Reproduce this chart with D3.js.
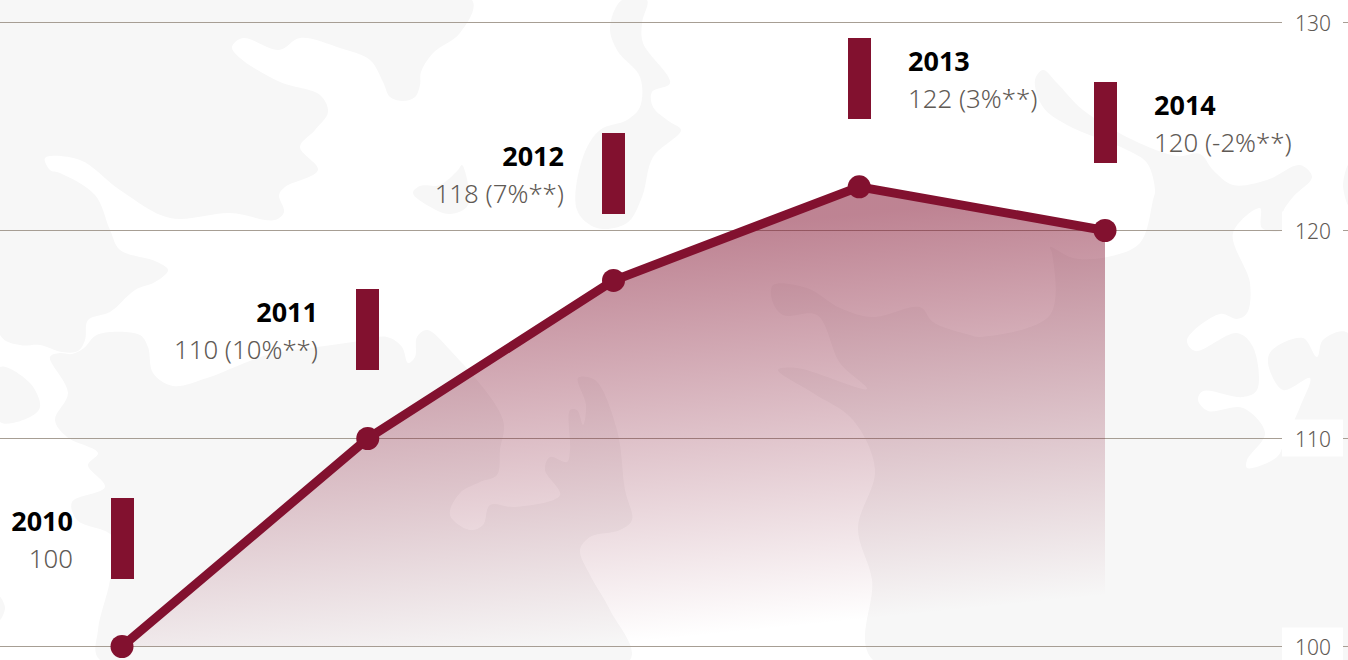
<!DOCTYPE html>
<html><head><meta charset="utf-8">
<script src="https://cdnjs.cloudflare.com/ajax/libs/d3/7.8.5/d3.min.js"></script>
<style>html,body{margin:0;padding:0;background:#fff;overflow:hidden}svg{display:block}
text{font-family:"Noto Sans",sans-serif}</style></head><body>
<svg id="c" width="1348" height="660"></svg>
<script>
const years=[2010,2011,2012,2013,2014];
const values=[100,110,117.6,122.1,120];
const valueLabels=["100","110 (10%**)","118 (7%**)","122 (3%**)","120 (-2%**)"];
const labelSides=["left","left","left","right","right"];
const labelLift=[148.5,149.5,147,148.8,148.5];
const tickValues=[100,110,120,130];

// decorative world-map backdrop outlines
const mapA=[[0,0],[472,0],[460,33],[433,53],[421,72],[420,85],[415,97],[403,101],[390,97],[383,82],[370,60],[340,48],[300,38],[279,50],[243,38],[232,47],[240,58],[280,82],[320,95],[328,112],[315,130],[300,147],[318,170],[285,187],[279,195],[284,212],[275,220],[230,213],[170,218],[120,190],[80,160],[45,158],[50,170],[60,173],[95,195],[110,230],[120,250],[155,261],[168,270],[155,282],[135,290],[110,312],[88,320],[85,340],[78,351],[62,352],[40,345],[20,345],[0,335]];
const mapB=[[50,357],[60,353],[72,354],[84,348],[95,336],[110,332],[140,335],[148,347],[153,373],[173,386],[207,378],[267,355],[317,347],[353,342],[387,337],[402,347],[408,363],[415,357],[417,337],[427,330],[450,350],[503,420],[500,450],[497,475],[480,482],[460,493],[450,515],[470,530],[483,525],[490,505],[515,507],[560,495],[545,470],[550,457],[567,462],[570,450],[570,410],[577,410],[583,425],[586,405],[578,378],[595,380],[617,430],[625,490],[632,520],[620,530],[590,537],[580,550],[590,575],[610,610],[630,660],[100,660],[98,630],[110,580],[113,537],[77,520],[72,502],[105,487],[88,465],[98,453],[67,437],[55,420],[68,393]];
const mapC=[[873,660],[872,580],[858,528],[875,470],[853,420],[813,393],[778,370],[797,368],[867,389],[840,363],[817,315],[783,315],[772,300],[773,285],[807,288],[840,308],[873,317],[913,307],[922,308],[933,322],[970,335],[980,337],[1050,315],[1052,253],[1050,247],[1073,258],[1107,257],[1140,243],[1153,200],[1155,190],[1147,163],[1127,150],[1067,125],[1043,107],[1035,80],[1043,70],[1057,83],[1083,110],[1133,140],[1177,156],[1200,154],[1213,170],[1233,185],[1267,180],[1300,165],[1312,177],[1293,197],[1283,212],[1283,230],[1262,228],[1260,208],[1233,233],[1250,283],[1247,313],[1237,319],[1220,314],[1187,340],[1195,351],[1237,333],[1253,347],[1257,390],[1243,397],[1203,391],[1198,400],[1208,411],[1243,408],[1265,433],[1247,460],[1247,468],[1277,457],[1285,440],[1300,407],[1310,378],[1283,390],[1268,363],[1272,350],[1303,338],[1317,357],[1323,340],[1348,333],[1348,660]];
const mapD=[[622,0],[610,27],[617,50],[640,77],[640,107],[627,120],[600,130],[583,157],[577,210],[597,228],[627,223],[642,197],[653,157],[681,130],[670,122],[653,107],[652,92],[670,83],[643,43],[642,23],[647,0]];
const mapE=[[413,193],[420,186],[440,185],[458,170],[462,165],[468,205],[450,214],[427,205]];
const mapF=[[0,367],[30,383],[40,407],[30,417],[0,422]];
const mapG=[[0,597],[5,608],[0,620]];
const mapH=[[1348,165],[1343,185],[1348,205]];
const mapShapes=[mapA,mapB,mapC,mapD,mapE,mapF,mapG,mapH];

const maroon="#82112f";
const svg=d3.select("#c");
const x=d3.scaleLinear().domain([2010,2014]).range([122,1105]);
const y=d3.scaleLinear().domain([100,130]).range([646.5,22.5]);

// backdrop
const blob=d3.line().curve(d3.curveCatmullRomClosed.alpha(0.5));
svg.append("g").selectAll("path").data(mapShapes).join("path")
  .attr("d",blob).attr("fill","#f7f7f7");

// gridlines + tick labels with white plates
const axis=d3.axisRight(y).tickValues(tickValues).tickSize(0).tickPadding(0);
const gridG=svg.append("g");
gridG.selectAll("line").data(tickValues).join("line")
  .attr("x1",0).attr("x2",1348).attr("y1",d=>y(d)).attr("y2",d=>y(d))
  .attr("stroke","#a79e94").attr("stroke-width",1);
gridG.selectAll("rect").data(tickValues).join("rect")
  .attr("x",1282).attr("width",61).attr("y",d=>y(d)-19).attr("height",37).attr("fill","#fff");

// area gradient
const defs=svg.append("defs");
const grad=defs.append("linearGradient").attr("id","fade").attr("gradientUnits","userSpaceOnUse")
  .attr("x1",600).attr("y1",240).attr("x2",640).attr("y2",642);
grad.append("stop").attr("offset",0).attr("stop-color",maroon).attr("stop-opacity",0.52);
grad.append("stop").attr("offset",1).attr("stop-color",maroon).attr("stop-opacity",0);

const pts=years.map((d,i)=>({year:d,value:values[i],label:valueLabels[i],side:labelSides[i],lift:labelLift[i]}));
svg.append("path").datum(pts)
  .attr("d",d3.area().x(d=>x(d.year)).y0(y(100)).y1(d=>y(d.value)))
  .attr("fill","url(#fade)");
svg.append("path").datum(pts)
  .attr("d",d3.line().x(d=>x(d.year)).y(d=>y(d.value)))
  .attr("fill","none").attr("stroke",maroon).attr("stroke-width",9);
svg.append("g").selectAll("circle").data(pts).join("circle")
  .attr("cx",d=>x(d.year)).attr("cy",d=>y(d.value)).attr("r",11.5).attr("fill",maroon);

// axis labels
const ax=svg.append("g").attr("transform","translate(1295,0)").call(axis);
ax.select(".domain").remove();
ax.selectAll("text").attr("x",0).attr("dy",null).attr("dominant-baseline",null)
  .attr("y",8).attr("font-size",21).attr("font-weight",300)
  .attr("font-family",'"Noto Sans",sans-serif').attr("fill","#5f5a55");

// annotation bars + labels (snapped to whole pixels so the edges stay crisp)
const lab=svg.append("g").selectAll("g").data(pts).join("g")
  .attr("transform",d=>`translate(${Math.floor(x(d.year)-11)},${Math.round(y(d.value)-d.lift)})`);
lab.append("rect").attr("x",0).attr("width",23).attr("height",81).attr("fill",maroon);
lab.append("text").text(d=>d.year)
  .attr("x",d=>d.side==="left"?-38:60).attr("y",33)
  .attr("text-anchor",d=>d.side==="left"?"end":"start")
  .attr("font-size",27).attr("font-weight",700).attr("fill","#000");
lab.append("text").text(d=>d.label)
  .attr("x",d=>d.side==="left"?-38:60).attr("y",70)
  .attr("text-anchor",d=>d.side==="left"?"end":"start")
  .attr("font-size",25.8).attr("font-weight",300).attr("fill","#5f5a55");
</script></body></html>
